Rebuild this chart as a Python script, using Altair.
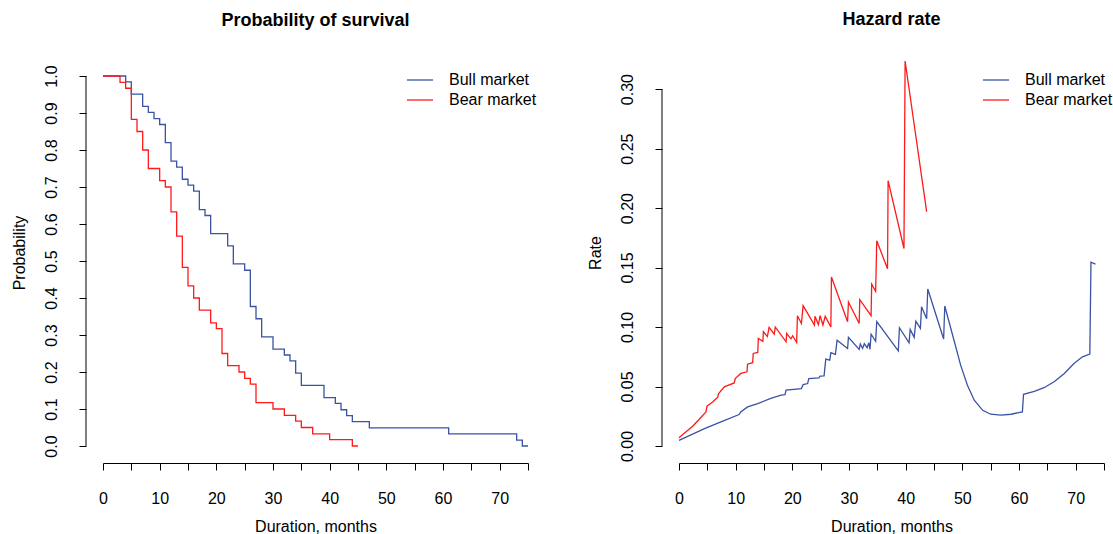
import altair as alt
import pandas as pd

FONT = "Liberation Sans"
SERIES = ["Bull market", "Bear market"]
COLORS = ["#3A53A4", "#FF1A1A"]

# Kaplan-Meier survival (months, probability)
bull_surv_t = [0, 4, 5, 7, 8, 9, 10, 11, 12, 13, 14, 15, 16, 17, 18, 19, 22, 23, 25, 26,
               27, 28, 30, 32, 33, 34, 35, 39, 41, 42, 43, 44, 47, 61, 73, 74, 75]
bull_surv_p = [1.0, 0.984, 0.951, 0.918, 0.902, 0.885, 0.869, 0.820, 0.770, 0.754, 0.721,
               0.705, 0.689, 0.639, 0.623, 0.574, 0.541, 0.492, 0.475, 0.377, 0.344, 0.295,
               0.262, 0.246, 0.230, 0.197, 0.164, 0.131, 0.115, 0.098, 0.082, 0.066, 0.049,
               0.033, 0.016, 0.0, 0.0]
bear_surv_t = [0, 3, 4, 5, 6, 7, 8, 10, 11, 12, 13, 14, 15, 16, 17, 19, 20, 21, 22, 24,
               25, 26, 27, 30, 32, 34, 35, 37, 40, 44, 45]
bear_surv_p = [1.0, 0.983, 0.967, 0.883, 0.85, 0.80, 0.75, 0.717, 0.70, 0.633, 0.567, 0.483,
               0.433, 0.40, 0.367, 0.333, 0.317, 0.25, 0.217, 0.20, 0.183, 0.167, 0.117, 0.10,
               0.083, 0.067, 0.05, 0.033, 0.017, 0.0, 0.0]

# Hazard rate (months, rate)
bull_haz_t = [0, 4.5, 7.4, 10.6, 10.9, 12.1, 13.9, 16.2, 18.0, 18.7, 18.9, 21.6, 21.9, 22.7,
              22.9, 24.7, 24.9, 25.6, 25.9, 26.6, 26.8, 27.6, 27.9, 29.75, 29.9, 31.8, 32.0,
              32.4, 32.7, 33.2, 33.5, 33.7, 33.9, 34.7, 34.9, 38.7, 38.9, 40.6, 40.8, 41.5,
              41.8, 42.6, 42.8, 43.7, 43.9, 46.7, 46.9, 48.6, 49.7, 50.9, 52.1, 53.6, 55.0,
              56.8, 58.6, 60.6, 60.8, 62.7, 64.4, 66.2, 68.0, 69.7, 71.2, 72.5, 72.7, 73.5]
bull_haz_r = [0.0048, 0.0146, 0.0202, 0.0264, 0.0287, 0.0329, 0.0357, 0.040, 0.0427, 0.0432,
              0.047, 0.0483, 0.0517, 0.0525, 0.0567, 0.0573, 0.0587, 0.059, 0.073, 0.0722,
              0.0784, 0.077, 0.089, 0.082, 0.0913, 0.0812, 0.0857, 0.082, 0.086, 0.0826,
              0.0868, 0.0812, 0.094, 0.088, 0.1045, 0.080, 0.0994, 0.0868, 0.098, 0.0913,
              0.105, 0.0989, 0.117, 0.107, 0.132, 0.090, 0.1177, 0.0876, 0.068, 0.051,
              0.0385, 0.030, 0.0267, 0.0259, 0.0267, 0.0287, 0.0435, 0.046, 0.049, 0.054,
              0.061, 0.0694, 0.075, 0.0773, 0.1545, 0.1528]
bear_haz_t = [0, 2.5, 4.76, 4.94, 5.94, 6.83, 7.0, 7.99, 9.75, 9.93, 10.9, 12.0, 12.1, 13.0,
              13.1, 13.9, 14.0, 14.8, 14.9, 15.6, 15.9, 16.8, 17.0, 18.9, 19.0, 19.75, 20.05,
              20.76, 20.9, 21.6, 21.9, 23.9, 24.0, 24.6, 24.9, 25.4, 25.8, 26.8, 26.9, 29.75,
              29.9, 31.8, 31.9, 33.9, 34.0, 34.7, 34.9, 36.8, 36.9, 39.7, 39.9, 43.7]
bear_haz_r = [0.007, 0.017, 0.0287, 0.0335, 0.037, 0.041, 0.044, 0.0497, 0.053, 0.0567,
              0.061, 0.0624, 0.0688, 0.070, 0.0778, 0.0786, 0.0904, 0.088, 0.096, 0.092,
              0.0997, 0.094, 0.100, 0.0876, 0.0946, 0.090, 0.0927, 0.087, 0.1095, 0.103,
              0.118, 0.1017, 0.109, 0.102, 0.1095, 0.1017, 0.109, 0.100, 0.142, 0.1045,
              0.121, 0.103, 0.123, 0.1095, 0.136, 0.130, 0.1725, 0.149, 0.223, 0.166,
              0.3236, 0.197]

x_ticks = list(range(0, 80, 5))
surv_ticks = [round(i * 0.1, 1) for i in range(11)]
haz_ticks = [round(i * 0.05, 2) for i in range(7)]

W, H = 425, 387
AXIS_OFF = 17


def x_enc(field):
    return alt.X(
        f"{field}:Q",
        scale=alt.Scale(domain=[0, 75], nice=False, zero=False),
        axis=alt.Axis(
            values=x_ticks, format="d",
            labelExpr="datum.value % 10 == 0 ? datum.label : ''",
            title="Duration, months", offset=AXIS_OFF, tickSize=7, labelPadding=20,
            titlePadding=12, grid=False, domainColor="black", tickColor="black",
            labelColor="black", titleColor="black", labelFontSize=16, titleFontSize=16,
            titleFontWeight="normal", labelFont=FONT, titleFont=FONT,
            labelFlush=False, labelOverlap=False, labelAngle=0,
        ),
    )


def y_enc(field, domain, ticks, fmt, title):
    return alt.Y(
        f"{field}:Q",
        scale=alt.Scale(domain=domain, nice=False, zero=False),
        axis=alt.Axis(
            values=ticks, format=fmt, title=title, offset=AXIS_OFF, tickSize=7,
            labelPadding=20, titlePadding=16, grid=False, domain=False,
            tickColor="black", labelColor="black", titleColor="black",
            labelFontSize=16, titleFontSize=16, titleFontWeight="normal",
            labelFont=FONT, titleFont=FONT, labelAngle=270, labelAlign="center",
            labelBaseline="bottom", labelFlush=False, labelOverlap=False,
        ),
    )


def panel(series_data, interp, ydomain, yticks, yfmt, ytitle, title):
    layers = []
    for name, color, (ts, vs) in zip(SERIES, COLORS, series_data):
        df = pd.DataFrame({"t": ts, "v": vs, "series": name})
        layers.append(
            alt.Chart(df).mark_line(color=color, strokeWidth=1.3, interpolate=interp)
            .encode(x=x_enc("t"), y=y_enc("v", ydomain, yticks, yfmt, ytitle),
                    order=alt.Order("t:Q"))
        )
    axis_df = pd.DataFrame({"lo": [yticks[0]], "hi": [yticks[-1]]})
    layers.append(
        alt.Chart(axis_df).mark_rule(color="black", strokeWidth=1)
        .encode(x=alt.value(-AXIS_OFF), y=y_enc("lo", ydomain, yticks, yfmt, ytitle), y2="hi:Q")
    )
    for i, (name, color) in enumerate(zip(SERIES, COLORS)):
        ldf = pd.DataFrame({"label": [name]})
        ypos = 21 + 20 * i
        layers.append(
            alt.Chart(ldf).mark_rule(color=color, strokeWidth=1.3)
            .encode(x=alt.value(304), x2=alt.value(330), y=alt.value(ypos))
        )
        layers.append(
            alt.Chart(ldf).mark_text(align="left", baseline="middle", fontSize=16, font=FONT,
                                     color="black")
            .encode(x=alt.value(346), y=alt.value(ypos), text="label:N")
        )
    return alt.layer(*layers).properties(
        width=W, height=H,
        title=alt.TitleParams(title, anchor="middle", frame="group", fontSize=18,
                              fontWeight="bold", font=FONT, color="black", offset=29),
    )


left = panel([(bull_surv_t, bull_surv_p), (bear_surv_t, bear_surv_p)], "step-after",
             [0, 1.046], surv_ticks, ".1f", "Probability", "Probability of survival")
right = panel([(bull_haz_t, bull_haz_r), (bear_haz_t, bear_haz_r)], "linear",
              [0, 0.3253], haz_ticks, ".2f", "Rate", "Hazard rate")

chart = (
    alt.hconcat(left, right, spacing=151, bounds="flush")
    .properties(padding={"left": 10, "top": 11, "right": 0, "bottom": 0}, background="white")
    .configure(font=FONT, view=alt.ViewConfig(stroke=None))
)

chart.save("out.html", embed_options={"renderer": "svg", "actions": False})
